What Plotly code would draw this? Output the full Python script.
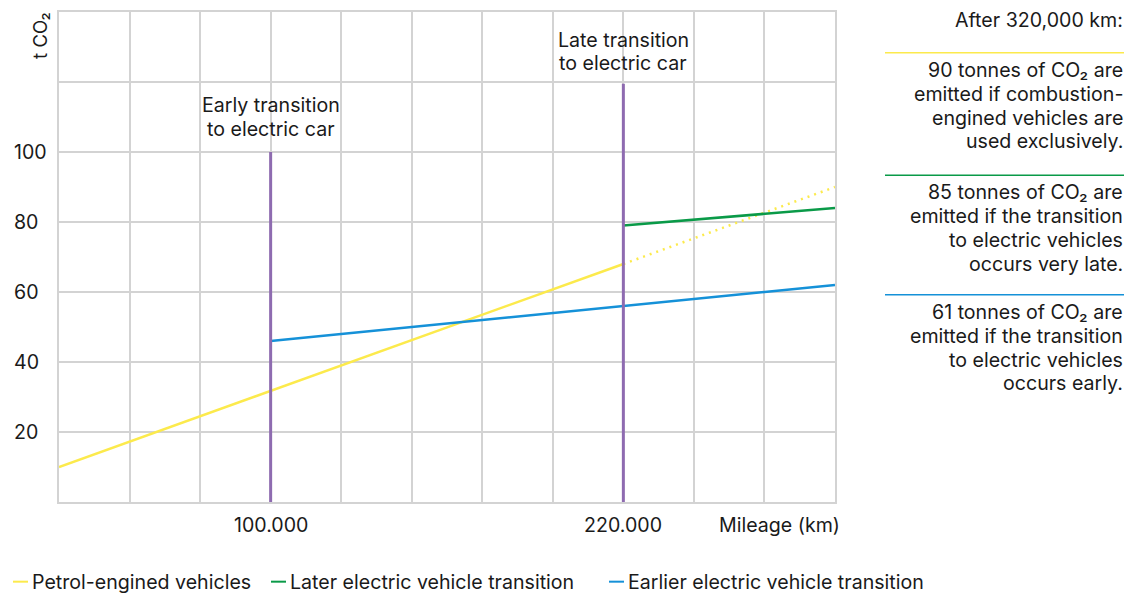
import plotly.graph_objects as go

# ---- data ----
grid_km = [28000, 52000, 76000, 100000, 124000, 148000, 172000, 196000, 220000, 244000, 268000, 292000]
x_tick_vals = [100000, 220000]
x_tick_text = ["100.000", "220.000"]
y_tick_vals = [20, 40, 60, 80, 100]

petrol_solid_x = [28000, 220000]
petrol_solid_y = [10, 68]
petrol_dot_x = [220000, 292000]
petrol_dot_y = [68, 90]
late_x = [220000, 292000]
late_y = [79, 84]
early_x = [100000, 292000]
early_y = [46, 62]
transition_x = [100000, 220000]
transition_top = [100, 119.5]
transition_labels = ["Early transition<br>to electric car", "Late transition<br>to electric car"]

panel_title = "After 320,000 km:"
panel_texts = [
    ["90 tonnes of CO₂ are", "emitted if combustion-", "engined vehicles are", "used exclusively."],
    ["85 tonnes of CO₂ are", "emitted if the transition", "to electric vehicles", "occurs very late."],
    ["61 tonnes of CO₂ are", "emitted if the transition", "to electric vehicles", "occurs early."],
]
legend_names = ["Petrol-engined vehicles", "Later electric vehicle transition", "Earlier electric vehicle transition"]

YELLOW = "#fcea4c"
GREEN = "#0a9a48"
BLUE = "#1591d8"
PURPLE = "#8e6bb0"
GRID = "#d3d3d3"
TEXT = "#1a1a1a"
FONT = "Inter"
FS = 19.6

W, H = 1127, 595
L, R, T, B = 59, 835, 10, 502


def px(x):
    return (x - L) / (R - L)


def py(y):
    return (B - y) / (B - T)


fig = go.Figure()
fig.add_trace(go.Scatter(x=petrol_solid_x, y=petrol_solid_y, mode="lines",
                         line=dict(color=YELLOW, width=2.5), showlegend=False))
fig.add_trace(go.Scatter(x=petrol_dot_x, y=petrol_dot_y, mode="lines",
                         line=dict(color=YELLOW, width=2.5, dash="2px,5px"), showlegend=False))
fig.add_trace(go.Scatter(x=early_x, y=early_y, mode="lines",
                         line=dict(color=BLUE, width=2.5), showlegend=False))
fig.add_trace(go.Scatter(x=late_x, y=late_y, mode="lines",
                         line=dict(color=GREEN, width=2.5), showlegend=False))
for xv, top in zip(transition_x, transition_top):
    fig.add_trace(go.Scatter(x=[xv, xv], y=[0, top], mode="lines",
                             line=dict(color=PURPLE, width=3), showlegend=False))

ann = []
# transition labels
label_y = [(103, 127), (38, 61)]
for xv, lab, (y1, y2) in zip(transition_x, transition_labels, label_y):
    for line, yy in zip(lab.split("<br>"), (y1, y2)):
        ann.append(dict(x=xv, y=py(yy), xref="x", yref="paper", text=line, showarrow=False,
                        xanchor="center", yanchor="middle", font=dict(size=FS, color=TEXT)))

# y tick labels
for v in y_tick_vals:
    ann.append(dict(x=px(12), y=v, xref="paper", yref="y", text=str(v), showarrow=False,
                    xanchor="left", yanchor="middle", font=dict(size=FS, color=TEXT)))
# y axis title
ann.append(dict(x=px(40), y=py(34), xref="paper", yref="paper", text="t CO₂", showarrow=False,
                textangle=-90, xanchor="center", yanchor="middle", font=dict(size=FS - 1, color=TEXT)))
# x tick labels
for v, t in zip(x_tick_vals, x_tick_text):
    ann.append(dict(x=v, y=py(525), xref="x", yref="paper", text=t, showarrow=False,
                    xanchor="center", yanchor="middle", font=dict(size=FS, color=TEXT)))
ann.append(dict(x=px(779), y=py(525), xref="paper", yref="paper", text="Mileage (km)", showarrow=False,
                xanchor="center", yanchor="middle", font=dict(size=FS, color=TEXT)))

# right panel
ann.append(dict(x=px(1125), y=py(18), xref="paper", yref="paper", text=panel_title, showarrow=False,
                xanchor="right", yanchor="middle", font=dict(size=FS, color=TEXT)))
panel_line_y = [51, 174, 294]
panel_text_y0 = [68, 191, 311]
panel_colors = [YELLOW, GREEN, BLUE]
shapes = []
for ly, ty0, col, lines in zip(panel_line_y, panel_text_y0, panel_colors, panel_texts):
    shapes.append(dict(type="line", xref="paper", yref="paper", x0=px(885), x1=px(1124),
                       y0=py(ly), y1=py(ly), line=dict(color=col, width=1.5)))
    for i, line in enumerate(lines):
        ann.append(dict(x=px(1125), y=py(ty0 + 24 * i), xref="paper", yref="paper", text=line,
                        showarrow=False, xanchor="right", yanchor="middle",
                        font=dict(size=FS, color=TEXT)))

# legend
legend_x = [13, 271, 609]
for lx, name, col in zip(legend_x, legend_names, panel_colors):
    shapes.append(dict(type="line", xref="paper", yref="paper", x0=px(lx), x1=px(lx + 15),
                       y0=py(582), y1=py(582), line=dict(color=col, width=2)))
    ann.append(dict(x=px(lx + 17), y=py(582), xref="paper", yref="paper", text=name,
                    showarrow=False, xanchor="left", yanchor="middle",
                    font=dict(size=FS, color=TEXT)))

fig.update_layout(
    width=W, height=H,
    margin=dict(l=L, r=W - R, t=T, b=H - B),
    paper_bgcolor="white", plot_bgcolor="white",
    font=dict(family=FONT, size=FS, color=TEXT),
    showlegend=False,
    annotations=ann, shapes=shapes,
    xaxis=dict(range=[grid_km[0], grid_km[-1]], tickvals=grid_km, showticklabels=False,
               showgrid=True, gridcolor=GRID, gridwidth=2, zeroline=False,
               showline=True, mirror=True, linecolor=GRID, linewidth=2, fixedrange=True),
    yaxis=dict(range=[0, 140], dtick=20, tick0=0, showticklabels=False,
               showgrid=True, gridcolor=GRID, gridwidth=2, zeroline=False,
               showline=True, mirror=True, linecolor=GRID, linewidth=2, fixedrange=True),
)

fig.write_html("out.html", config=dict(displayModeBar=False),
               post_script="document.body.style.margin='0';")
